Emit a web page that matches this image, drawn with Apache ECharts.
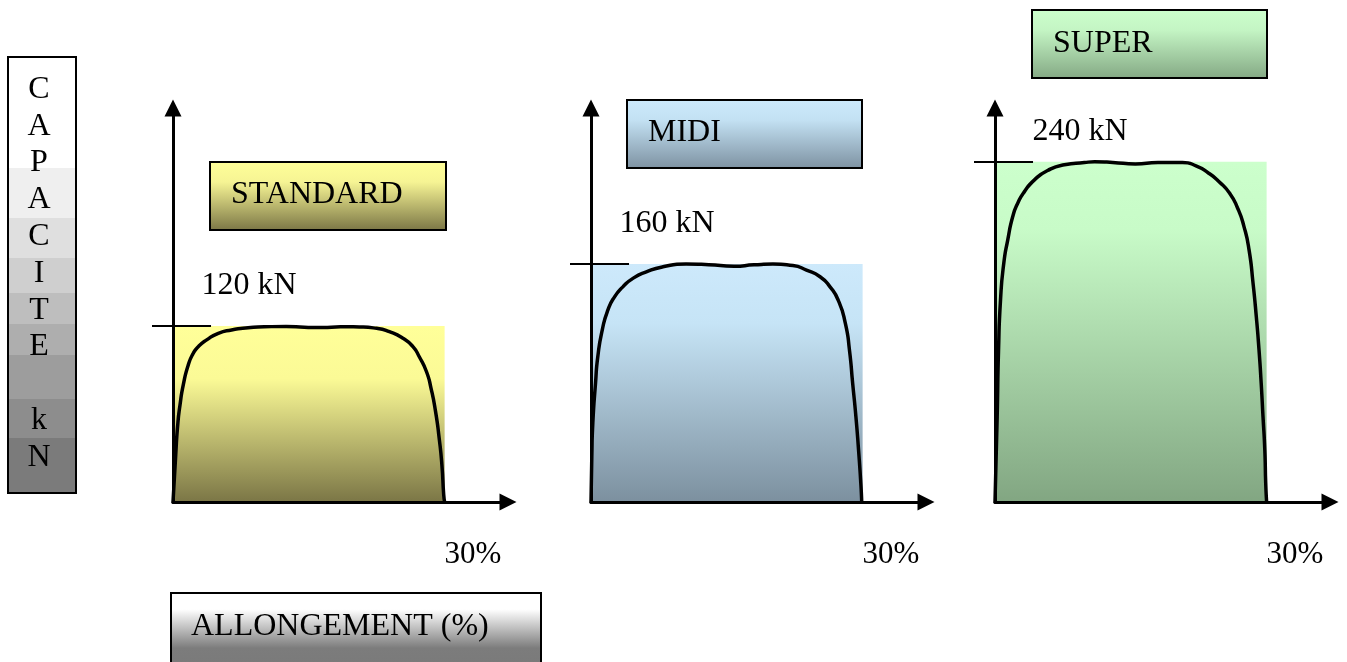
<!DOCTYPE html>
<html><head><meta charset="utf-8">
<script src="https://cdn.jsdelivr.net/npm/echarts@6/dist/echarts.min.js"></script>
<style>html,body{margin:0;padding:0;background:#fff}#c{width:1347px;height:662px}</style>
</head><body><div id="c"></div>
<script>
// ---- data ----
const panelNames = ['STANDARD', 'MIDI', 'SUPER'];
const capacities = [120, 160, 240];          // kN
const maxElongation = 30;                    // %
const xTickLabels = ['30%', '30%', '30%'];
const yTitleLetters = ['C','A','P','A','C','I','T','E','','k','N'];
const xTitle = 'ALLONGEMENT (%)';
const curveStandard = [[0,0],[0.3,32],[0.52,52.5],[0.77,66],[1.14,80],[1.69,93.5],[2.24,101.4],[2.79,105.9],[3.72,110.5],[5.0,115],[6.47,117.3],[8.3,118.8],[10.1,119.5],[12.5,119.6],[14.5,119.2],[16.5,118.9],[18.5,119.5],[20.6,119.3],[22.5,118.4],[23.9,116.1],[25.4,111.6],[26.5,105.9],[27.2,99],[28.0,88.8],[28.5,77.5],[29.0,61.6],[29.4,43.4],[29.7,25.2],[29.9,4.8],[30,0]];
const curveMidi = [[0,0],[0.09,30.5],[0.2,53],[0.5,80],[0.75,97.7],[1.24,115.6],[1.86,129],[2.6,138],[3.52,144.7],[4.63,150.4],[6.11,154.8],[7.95,158.2],[10.5,160],[13,159.6],[15.8,158.6],[18,159.5],[20.1,160],[22.3,159],[23.8,156],[25.3,151.5],[26.4,144.7],[27.3,135.8],[28.1,120],[28.55,102],[28.9,79.8],[29.26,57.3],[29.55,35],[29.8,12.6],[29.9,0]];
const curveSuper = [[0,0],[0.24,60],[0.39,107],[0.61,142.6],[0.97,168.5],[1.41,185],[1.96,201.4],[2.51,210.8],[3.25,219],[4.36,227.3],[5.82,233.9],[7.66,237.9],[9.87,239.5],[11,240],[13,239.6],[15.5,238.5],[18,239.5],[20.7,239.5],[22.2,237.2],[23.6,232],[24.75,226],[25.9,218],[26.8,207.3],[27.5,194.3],[28.06,177.9],[28.5,154.4],[28.86,130.8],[29.16,107.3],[29.4,83.8],[29.6,60.2],[29.8,36.7],[29.9,13.2],[30,0]];
const curves = [curveStandard, curveMidi, curveSuper];

// ---- layout / style ----
const FONT = '"Liberation Serif", "Times New Roman", serif';
const gridLefts = [173, 591, 995];
const yMax = [268.6, 265, 278];
const LG = (stops) => new echarts.graphic.LinearGradient(0, 0, 0, 1, stops.map(s => ({offset: s[0], color: s[1]})));
const areaGrad = [
  [[0,'#ffff99'],[0.3,'#fbfa96'],[1,'#7b7646']],
  [[0,'#cde9fb'],[0.25,'#c6e4f6'],[1,'#7c909f']],
  [[0,'#ccffcc'],[0.2,'#c8fbc8'],[1,'#82a682']]
];
const boxGrad = [
  [[0,'#ffff99'],[0.3,'#f6f494'],[1,'#7a7545']],
  [[0,'#cdeafc'],[0.3,'#c3e1f3'],[1,'#7d91a1']],
  [[0,'#ccffcc'],[0.3,'#c4f5c4'],[1,'#84a884']]
];
const boxes = [
  {x:210, y:162, w:236, h:68, tx:231, ty:194.5},
  {x:627, y:100, w:235, h:68, tx:648, ty:133},
  {x:1032, y:10, w:235, h:68, tx:1053, ty:43.5}
];
const labelOffsets = [[29,-40],[29,-40],[38,-30]];

const grids = [], xAxes = [], yAxes = [], series = [];
panelNames.forEach((name, i) => {
  grids.push({left: gridLefts[i], top: 108, width: 335, height: 394});
  const axisLine = {show: true, onZero: false, symbol: ['none','triangle'], symbolSize: [17, 17],
    lineStyle: {color: '#000', width: 3}};
  const cap = capacities[i];
  xAxes.push({gridIndex: i, type: 'value', min: 0, max: 37, interval: 30, z: 5,
    axisLine, axisTick: {show: false}, splitLine: {show: false},
    axisLabel: {formatter: v => v === maxElongation ? xTickLabels[i] : '', margin: 53,
      align: 'left', verticalAlign: 'middle', fontSize: 31, fontFamily: FONT, color: '#000'}});
  yAxes.push({gridIndex: i, type: 'value', min: 0, max: yMax[i], z: 5,
    axisLine, splitLine: {show: false}, axisLabel: {show: false},
    axisTick: {show: true, customValues: [cap], length: 21, inside: false,
      lineStyle: {color: '#000', width: 2}}});
  series.push({
    type: 'line', xAxisIndex: i, yAxisIndex: i, silent: true, z: 1,
    data: [[0, cap], [maxElongation, cap]], symbol: 'none',
    lineStyle: {width: 0}, areaStyle: {color: LG(areaGrad[i]), opacity: 1},
    markLine: {silent: true, symbol: 'none', animation: false,
      lineStyle: {color: '#000', width: 2, type: 'solid'}, label: {show: false},
      data: [[{coord: [0, cap]}, {coord: [4.2, cap]}]]},
    markPoint: {silent: true, animation: false, symbol: 'rect', symbolSize: 1,
      itemStyle: {color: 'rgba(0,0,0,0)'},
      label: {show: true, position: labelOffsets[i], align: 'left', verticalAlign: 'middle',
        formatter: cap + ' kN', fontSize: 32, fontFamily: FONT, color: '#000'},
      data: [{coord: [0, cap], value: cap}]}
  });
  series.push({
    type: 'line', xAxisIndex: i, yAxisIndex: i, silent: true, z: 3,
    data: curves[i], smooth: 0.6, symbol: 'none',
    lineStyle: {color: '#000', width: 3.5, join: 'round', cap: 'round'}
  });
});

const graphic = [];
panelNames.forEach((name, i) => {
  const b = boxes[i];
  graphic.push({type: 'rect', shape: {x: b.x, y: b.y, width: b.w, height: b.h},
    style: {fill: LG(boxGrad[i]), stroke: '#000', lineWidth: 2}, z: 10});
  graphic.push({type: 'text', x: b.tx, y: b.ty, z: 11,
    style: {text: name, fontSize: 32, fontFamily: FONT, fill: '#000', verticalAlign: 'middle', align: 'left'}});
});
// vertical axis title box (banded grey)
const band = (a, b, c) => [[a, c], [b, c]];
const yBands = [].concat(
  band(0, 0.255, '#ffffff'), band(0.255, 0.369, '#efefef'), band(0.369, 0.461, '#dfdfdf'),
  band(0.461, 0.541, '#cfcfcf'), band(0.541, 0.612, '#bebebe'), band(0.612, 0.683, '#aeaeae'),
  band(0.683, 0.782, '#9d9d9d'), band(0.782, 0.872, '#8d8d8d'), band(0.872, 1, '#7b7b7b'));
graphic.push({type: 'rect', shape: {x: 8, y: 57, width: 68, height: 436},
  style: {fill: LG(yBands), stroke: '#000', lineWidth: 2}, z: 10});
graphic.push({type: 'text', x: 39, y: 71, z: 11,
  style: {text: yTitleLetters.join('\n'), fontSize: 32, lineHeight: 36.8, fontFamily: FONT,
    fill: '#000', align: 'center', verticalAlign: 'top'}});
// horizontal axis title box
graphic.push({type: 'rect', shape: {x: 171, y: 593, width: 370, height: 100},
  style: {fill: LG([[0,'#ffffff'],[0.17,'#ffffff'],[0.55,'#7c7c7c'],[1,'#777777']]), stroke: '#000', lineWidth: 2}, z: 10});
graphic.push({type: 'text', x: 191, y: 627, z: 11,
  style: {text: xTitle, fontSize: 32, fontFamily: FONT, fill: '#000', verticalAlign: 'middle', align: 'left'}});

const chart = echarts.init(document.getElementById('c'), null, {renderer: 'canvas'});
chart.setOption({
  animation: false,
  backgroundColor: '#fff',
  grid: grids, xAxis: xAxes, yAxis: yAxes, series, graphic
});
</script></body></html>
